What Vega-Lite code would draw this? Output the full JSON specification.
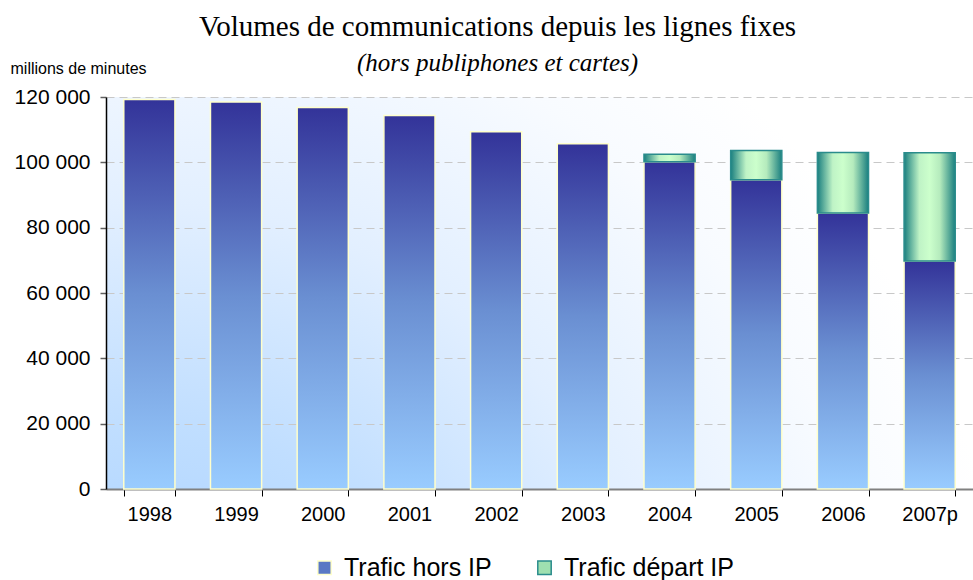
{
  "$schema": "https://vega.github.io/schema/vega-lite/v6.json",
  "width": 867,
  "height": 392,
  "autosize": {"type": "none"},
  "padding": {"left": 106, "top": 97, "right": 0, "bottom": 91},
  "background": "white",
  "title": {
    "text": "Volumes de communications depuis les lignes fixes",
    "subtitle": "(hors publiphones et cartes)",
    "font": "Liberation Serif",
    "fontSize": 29,
    "fontWeight": "normal",
    "color": "black",
    "subtitleFont": "Liberation Serif",
    "subtitleFontSize": 25,
    "subtitleFontStyle": "italic",
    "subtitleColor": "black",
    "subtitlePadding": 9,
    "anchor": "middle",
    "dx": -42,
    "offset": -16
  },
  "data": {
    "values": [
      {"annee": "1998", "serie": "Trafic hors IP", "valeur": 119200},
      {"annee": "1999", "serie": "Trafic hors IP", "valeur": 118500},
      {"annee": "2000", "serie": "Trafic hors IP", "valeur": 116800},
      {"annee": "2001", "serie": "Trafic hors IP", "valeur": 114300},
      {"annee": "2002", "serie": "Trafic hors IP", "valeur": 109400},
      {"annee": "2003", "serie": "Trafic hors IP", "valeur": 105700},
      {"annee": "2004", "serie": "Trafic hors IP", "valeur": 100200},
      {"annee": "2004", "serie": "Trafic départ IP", "valeur": 2300},
      {"annee": "2005", "serie": "Trafic hors IP", "valeur": 94700},
      {"annee": "2005", "serie": "Trafic départ IP", "valeur": 8900},
      {"annee": "2006", "serie": "Trafic hors IP", "valeur": 84500},
      {"annee": "2006", "serie": "Trafic départ IP", "valeur": 18500},
      {"annee": "2007p", "serie": "Trafic hors IP", "valeur": 69800},
      {"annee": "2007p", "serie": "Trafic départ IP", "valeur": 33100}
    ]
  },
  "encoding": {
    "x": {
      "field": "annee",
      "type": "nominal",
      "sort": null,
      "scale": {"paddingInner": 0.41, "paddingOuter": 0.205},
      "axis": {
        "title": null,
        "labelAngle": 0,
        "labelFont": "Liberation Sans",
        "labelFontSize": 20,
        "labelColor": "black",
        "labelPadding": 8,
        "tickBand": "extent",
        "tickColor": "black",
        "tickSize": 7,
        "domainColor": "#808080",
        "domainWidth": 2,
        "grid": false
      }
    },
    "y": {
      "field": "valeur",
      "type": "quantitative",
      "stack": "zero",
      "scale": {"domain": [0, 120000], "nice": false},
      "axis": {
        "values": [0, 20000, 40000, 60000, 80000, 100000, 120000],
        "format": ",d",
        "title": "millions de minutes",
        "titleAngle": 0,
        "titleX": -96,
        "titleY": -24,
        "titleAlign": "left",
        "titleBaseline": "alphabetic",
        "titleFont": "Liberation Sans",
        "titleFontSize": 16,
        "titleFontWeight": "normal",
        "titleColor": "black",
        "labelFont": "Liberation Sans",
        "labelFontSize": 21,
        "labelColor": "black",
        "labelPadding": 10,
        "tickColor": "#606060",
        "tickSize": 6,
        "tickWidth": 1.5,
        "domainColor": "black",
        "domainWidth": 1.5,
        "grid": true,
        "gridColor": "#c8c8c8",
        "gridDash": [8, 5],
        "gridWidth": 1
      }
    },
    "order": {"field": "serie", "sort": "descending"}
  },
  "layer": [
    {
      "mark": {"type": "bar", "strokeWidth": 0},
      "encoding": {
        "color": {
          "field": "serie",
          "type": "nominal",
          "scale": {
            "domain": ["Trafic hors IP", "Trafic départ IP"],
            "range": ["#5a78c4", "#9fe0b0"]
          },
          "legend": {
            "orient": "none",
            "legendX": 206,
            "legendY": 458,
            "direction": "horizontal",
            "title": null,
            "labelFont": "Liberation Sans",
            "labelFontSize": 25,
            "labelLimit": 400,
            "labelColor": "black",
            "symbolType": "square",
            "symbolSize": 180,
            "symbolStrokeWidth": 1.5,
            "labelOffset": 7,
            "columnPadding": 40,
            "encode": {
              "symbols": {
                "update": {
                  "fill": {"signal": "datum.value === 'Trafic hors IP' ? {gradient: 'linear', x1: 0, y1: 0, x2: 0, y2: 1, stops: [{offset: 0, color: '#333399'}, {offset: 1, color: '#99ccff'}]} : {gradient: 'linear', x1: 0, y1: 0, x2: 1, y2: 0, stops: [{offset: 0, color: '#1a7f7f'}, {offset: 0.5, color: '#ccffcc'}, {offset: 1, color: '#1a7f7f'}]}"},
                  "stroke": {"signal": "datum.value === 'Trafic hors IP' ? '#ffffcc' : '#2a8c8c'"},
                  "strokeWidth": {"value": 1.5}
                }
              }
            }
          }
        }
      }
    },
    {
      "mark": {"type": "bar", "strokeWidth": 1.5},
      "encoding": {
        "detail": {"field": "serie", "type": "nominal"},
        "fill": {
          "condition": {
            "test": "datum.serie === 'Trafic hors IP'",
            "value": {"gradient": "linear", "x1": 0, "y1": 0, "x2": 0, "y2": 1,
              "stops": [{"offset": 0, "color": "#333399"}, {"offset": 0.5, "color": "#6a8fd2"}, {"offset": 1, "color": "#99ccff"}]}
          },
          "value": {"gradient": "linear", "x1": 0, "y1": 0, "x2": 1, "y2": 0,
            "stops": [{"offset": 0, "color": "#1a7f7f"}, {"offset": 0.3, "color": "#bff3c6"}, {"offset": 0.5, "color": "#ccffcc"}, {"offset": 0.7, "color": "#b5ebbd"}, {"offset": 1, "color": "#1a7f7f"}]}
        },
        "stroke": {
          "condition": {"test": "datum.serie === 'Trafic hors IP'", "value": "#ffffcc"},
          "value": "#2a8c8c"
        }
      }
    }
  ],
  "config": {
    "locale": {"number": {"decimal": ",", "thousands": " ", "grouping": [3], "currency": ["", " €"]}},
    "view": {
      "stroke": null,
      "fill": {
        "gradient": "radial", "x1": 0.05, "y1": 1, "r1": 0, "x2": 0.05, "y2": 1, "r2": 1,
        "stops": [
          {"offset": 0, "color": "#9dcbff"},
          {"offset": 0.35, "color": "#c0deff"},
          {"offset": 0.6, "color": "#e2efff"},
          {"offset": 0.85, "color": "#f8fbff"},
          {"offset": 1, "color": "#ffffff"}
        ]
      }
    }
  }
}
